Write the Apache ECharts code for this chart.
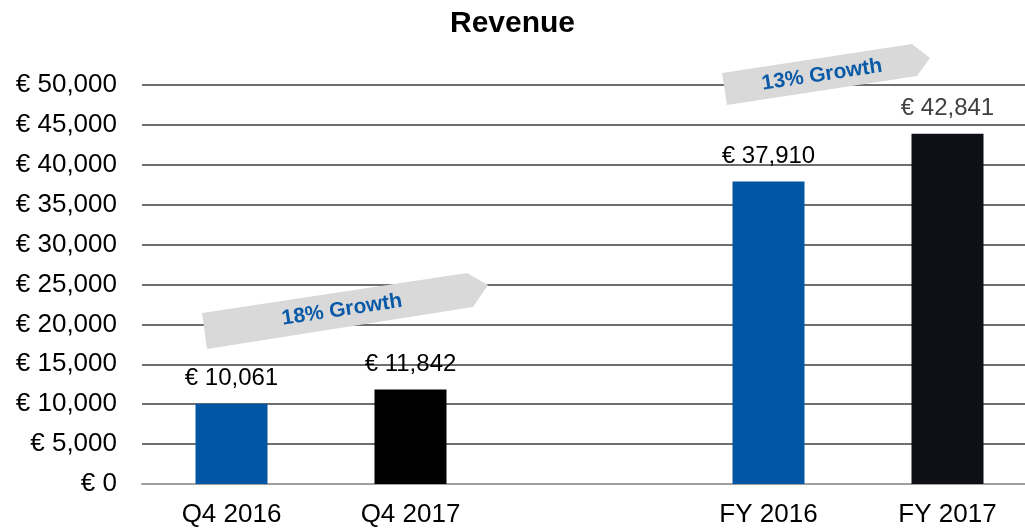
<!DOCTYPE html>
<html lang="en">
<head>
    <meta charset="UTF-8">
    <title>Revenue</title>
    <style>
        html, body { margin: 0; padding: 0; background: #fff; }
        #box { width: 1025px; height: 529px; }
    </style>
</head>
<body>
    <div id="box"></div>
    <script src="https://cdn.jsdelivr.net/npm/echarts@6/dist/echarts.min.js"></script>
    <script>
        // categories, the 3rd one is just a spacer between quarter and year
        var categories = ['Q4 2016', 'Q4 2017', '', 'FY 2016', 'FY 2017'];
        // bar heights as drawn in the picture
        var barValues = [10061, 11842, null, 37910, 43900];
        // numbers printed above the bars
        var labelValues = [10061, 11842, null, 37910, 42841];
        var barColors = ['#0256a4', '#000000', '#000000', '#0256a4', '#0f0f17'];
        var labelColors = ['#000', '#000', '#000', '#000', '#404040'];
        var growthTexts = ['18% Growth', '13% Growth'];

        var fontFam = '"Liberation Sans", Arial, sans-serif';

        function euro(v) {
            return '€ ' + Number(v).toLocaleString('en-US');
        }

        var seriesData = barValues.map(function (v, i) {
            return {
                value: v,
                itemStyle: { color: barColors[i] },
                label: { color: labelColors[i] }
            };
        });

        var chartDom = document.getElementById('box');
        var myChart = echarts.init(chartDom);

        var option = {
            animation: false,
            title: {
                text: 'Revenue',
                left: 'center',
                top: 4,
                textStyle: { fontFamily: fontFam, fontSize: 30, fontWeight: 'bold', color: '#000' }
            },
            // plot runs a bit past the right edge of the picture
            grid: { left: 142, width: 895, top: 85, bottom: 45, outerBoundsMode: 'none' },
            xAxis: {
                type: 'category',
                data: categories,
                axisLine: { lineStyle: { color: '#a0a0a0', width: 2 } },
                axisTick: { length: 8, lineStyle: { color: '#a0a0a0', width: 2 } },
                axisLabel: { fontFamily: fontFam, fontSize: 26, color: '#000', margin: 18 }
            },
            yAxis: {
                type: 'value',
                min: 0,
                max: 50000,
                interval: 5000,
                axisLine: { show: false },
                axisTick: { show: false },
                splitLine: { lineStyle: { color: '#6e6e6e', width: 2 } },
                axisLabel: {
                    fontFamily: fontFam, fontSize: 26, color: '#000', margin: 25,
                    formatter: euro
                }
            },
            series: [{
                type: 'bar',
                data: seriesData,
                barWidth: 72,
                label: {
                    show: true,
                    position: 'top',
                    distance: 13,
                    fontFamily: fontFam,
                    fontSize: 24,
                    formatter: function (p) {
                        var v = labelValues[p.dataIndex];
                        return v == null ? '' : euro(v);
                    }
                }
            }],
            graphic: [
                {
                    type: 'polygon',
                    shape: { points: [[202, 313], [467, 273], [488, 285], [473, 307], [207, 349]] },
                    style: { fill: '#d9d9d9' },
                    z: 100
                },
                {
                    type: 'text',
                    x: 342, y: 310, rotation: 0.15,
                    style: {
                        text: growthTexts[0], x: 0, y: 0, textAlign: 'center', textVerticalAlign: 'middle',
                        font: 'bold 21px ' + fontFam, fill: '#0a5aa8'
                    },
                    z: 101
                },
                {
                    type: 'polygon',
                    shape: { points: [[722, 73], [912, 44], [930, 58], [917, 76], [727, 105]] },
                    style: { fill: '#d9d9d9' },
                    z: 100
                },
                {
                    type: 'text',
                    x: 822, y: 75, rotation: 0.15,
                    style: {
                        text: growthTexts[1], x: 0, y: 0, textAlign: 'center', textVerticalAlign: 'middle',
                        font: 'bold 21px ' + fontFam, fill: '#0a5aa8'
                    },
                    z: 101
                }
            ]
        };

        option && myChart.setOption(option);
    </script>
</body>
</html>
